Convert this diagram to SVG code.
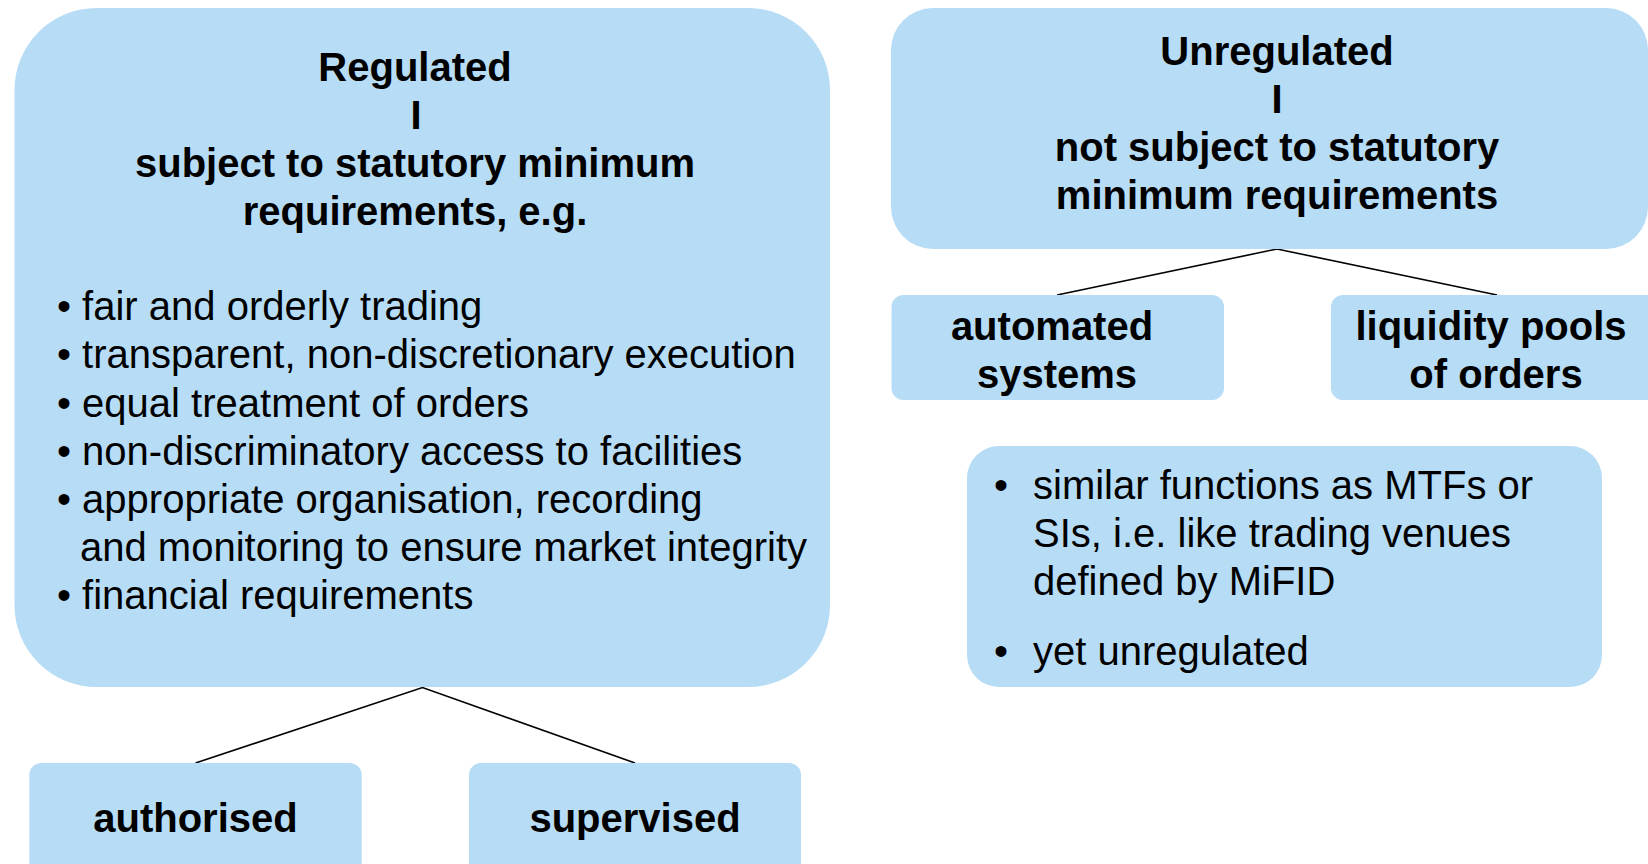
<svg xmlns="http://www.w3.org/2000/svg" width="1648" height="864" viewBox="0 0 1648 864">
<style>
.box{fill:#b7dcf5;}
.t{font-family:"Liberation Sans",Arial,sans-serif;font-size:40px;fill:#000;}
.b{font-weight:bold;text-anchor:middle;}
.c{stroke:#000;stroke-width:1.6;fill:none;}
</style>
<rect width="1648" height="864" fill="#fff"/>
<g id="connectors">
<polyline class="c" points="195.5,763 422.5,687.5 635,763"/>
<polyline class="c" points="1057,295 1277,249 1497,295"/>
</g>
<g id="regulated">
<rect class="box" x="14.5" y="8" width="815.5" height="679" rx="82" ry="82"/>
<text class="t b" x="415" y="81">Regulated</text>
<text class="t b" x="416" y="129">I</text>
<text class="t b" x="415" y="177">subject to statutory minimum</text>
<text class="t b" x="415" y="225">requirements, e.g.</text>
<text class="t" x="57" y="320">• fair and orderly trading</text>
<text class="t" x="57" y="368">• transparent, non-discretionary execution</text>
<text class="t" x="57" y="417">• equal treatment of orders</text>
<text class="t" x="57" y="465">• non-discriminatory access to facilities</text>
<text class="t" x="57" y="513">• appropriate organisation, recording</text>
<text class="t" x="80" y="561">and monitoring to ensure market integrity</text>
<text class="t" x="57" y="609">• financial requirements</text>
</g>
<g id="authorised">
<rect class="box" x="29.3" y="763" width="332.4" height="130" rx="12" ry="12"/>
<text class="t b" x="195.5" y="832">authorised</text>
</g>
<g id="supervised">
<rect class="box" x="469" y="763" width="332" height="130" rx="12" ry="12"/>
<text class="t b" x="635" y="832">supervised</text>
</g>
<g id="unregulated">
<rect class="box" x="891" y="8" width="757" height="241" rx="42" ry="42"/>
<text class="t b" x="1277" y="65">Unregulated</text>
<text class="t b" x="1277" y="113">I</text>
<text class="t b" x="1277" y="161">not subject to statutory</text>
<text class="t b" x="1277" y="209">minimum requirements</text>
</g>
<g id="automated">
<rect class="box" x="891.5" y="295" width="332.5" height="105" rx="12" ry="12"/>
<text class="t b" x="1052" y="340">automated</text>
<text class="t b" x="1057" y="388">systems</text>
</g>
<g id="liquidity">
<rect class="box" x="1331" y="295" width="340" height="105" rx="12" ry="12"/>
<text class="t b" x="1491" y="340">liquidity pools</text>
<text class="t b" x="1496" y="388">of orders</text>
</g>
<g id="notes">
<rect class="box" x="967" y="446" width="635" height="241" rx="32" ry="32"/>
<text class="t" x="994" y="499">•</text>
<text class="t" x="1033" y="499">similar functions as MTFs or</text>
<text class="t" x="1033" y="547">SIs, i.e. like trading venues</text>
<text class="t" x="1033" y="595">defined by MiFID</text>
<text class="t" x="994" y="665">•</text>
<text class="t" x="1033" y="665">yet unregulated</text>
</g>
</svg>
